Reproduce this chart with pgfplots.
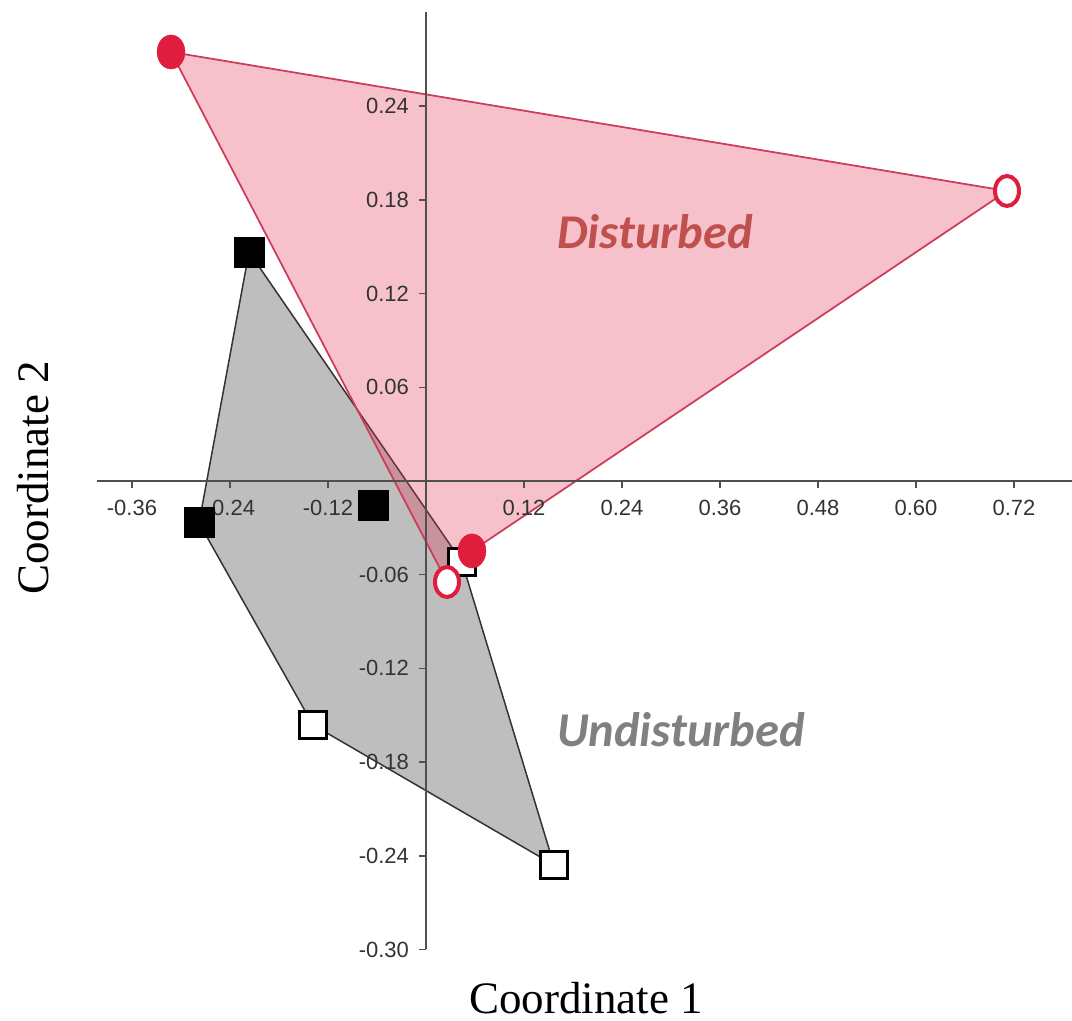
\documentclass[border=0pt]{standalone}
\usepackage{fontspec}
\setmainfont{Liberation Sans}
\newfontfamily\timesf{Liberation Serif}
\newfontfamily\calibri{Carlito}
\usepackage{pgfplots}
\pgfplotsset{compat=1.18}
\definecolor{pinkfill}{RGB}{225,50,80}
\definecolor{redmark}{RGB}{222,30,60}
\definecolor{redline}{RGB}{205,60,90}
\definecolor{grayfill}{RGB}{190,190,190}
\definecolor{distc}{RGB}{192,80,77}
\definecolor{undistc}{RGB}{128,128,128}
\definecolor{axc}{RGB}{80,80,80}
\begin{document}
\begin{tikzpicture}
\begin{axis}[
  set layers=standard,
  x=326.7pt, y=624.7pt,
  xmin=-0.403, xmax=0.791,
  ymin=-0.30, ymax=0.3003,
  axis lines=middle,
  axis line style={-, draw=axc, line width=0.8pt},
  clip=false,
  xtick={-0.36,-0.24,-0.12,0.12,0.24,0.36,0.48,0.60,0.72},
  xticklabels={-0.36,-0.24,-0.12,0.12,0.24,0.36,0.48,0.60,0.72},
  ytick={-0.30,-0.24,-0.18,-0.12,-0.06,0.06,0.12,0.18,0.24},
  yticklabels={-0.30,-0.24,-0.18,-0.12,-0.06,0.06,0.12,0.18,0.24},
  tick align=outside,
  major tick length=2.8pt,
  tick style={draw=axc, line width=0.6pt},
  ticklabel style={font=\fontsize{8.8}{10}\selectfont, text=black!80},
  xticklabel style={yshift=-1.5pt},
  yticklabel style={xshift=-0.5pt},
]
% hulls
\addplot[on layer=axis background, fill=grayfill, draw=black!80, line width=0.6pt] coordinates {
  (-0.2167,0.1466) (-0.2779,-0.0269) (-0.1384,-0.1562) (0.1567,-0.2459) (0.0441,-0.0519) (-0.2167,0.1466)} -- cycle;
\addplot[on layer=axis background, fill=pinkfill, fill opacity=0.3, draw=redline, line width=0.7pt] coordinates {
  (-0.3122,0.2747) (0.7114,0.1857) (0.0563,-0.0448) (0.0257,-0.0647) (-0.3122,0.2747)} -- cycle;
% undisturbed: filled squares
\addplot[only marks, mark=square*, mark size=6pt, mark options={fill=black, draw=black}] coordinates {
  (-0.2167,0.1466) (-0.2779,-0.0269) (-0.0637,-0.0160)};
% undisturbed: open squares
\addplot[only marks, mark=square*, mark size=5.4pt, mark options={fill=white, draw=black, line width=1.2pt}] coordinates {
  (0.0441,-0.0519) (-0.1384,-0.1562) (0.1567,-0.2459)};
% disturbed: open circles
\addplot[only marks, mark=*, mark size=6pt, mark options={fill=white, draw=redmark, line width=1.6pt, xscale=0.8}] coordinates {
  (0.7114,0.1857) (0.0257,-0.0647)};
% disturbed: filled circles
\addplot[only marks, mark=*, mark size=6.8pt, mark options={fill=redmark, draw=redmark, line width=0.2pt, xscale=0.82}] coordinates {
  (-0.3122,0.2747) (0.0563,-0.0448)};
\node[font=\calibri\bfseries\itshape\fontsize{19.4}{21}\selectfont, text=distc] at (axis cs:0.2804,0.1594) {Disturbed};
\node[font=\calibri\bfseries\itshape\fontsize{19.4}{21}\selectfont, text=undistc] at (axis cs:0.3122,-0.1594) {Undisturbed};
\node[font=\timesf\fontsize{18}{20}\selectfont, anchor=base] at (axis cs:0.1959,-0.3407) {Coordinate 1};
\node[font=\timesf\fontsize{18}{20}\selectfont, anchor=base, rotate=90] at (axis cs:-0.4628,0.0019) {Coordinate 2};
\coordinate (bl) at (axis cs:-0.5216,-0.3458);
\coordinate (tr) at (axis cs:0.7910,0.3080);
\end{axis}
\pgfresetboundingbox
\path (bl) rectangle (tr);
\end{tikzpicture}
\end{document}
